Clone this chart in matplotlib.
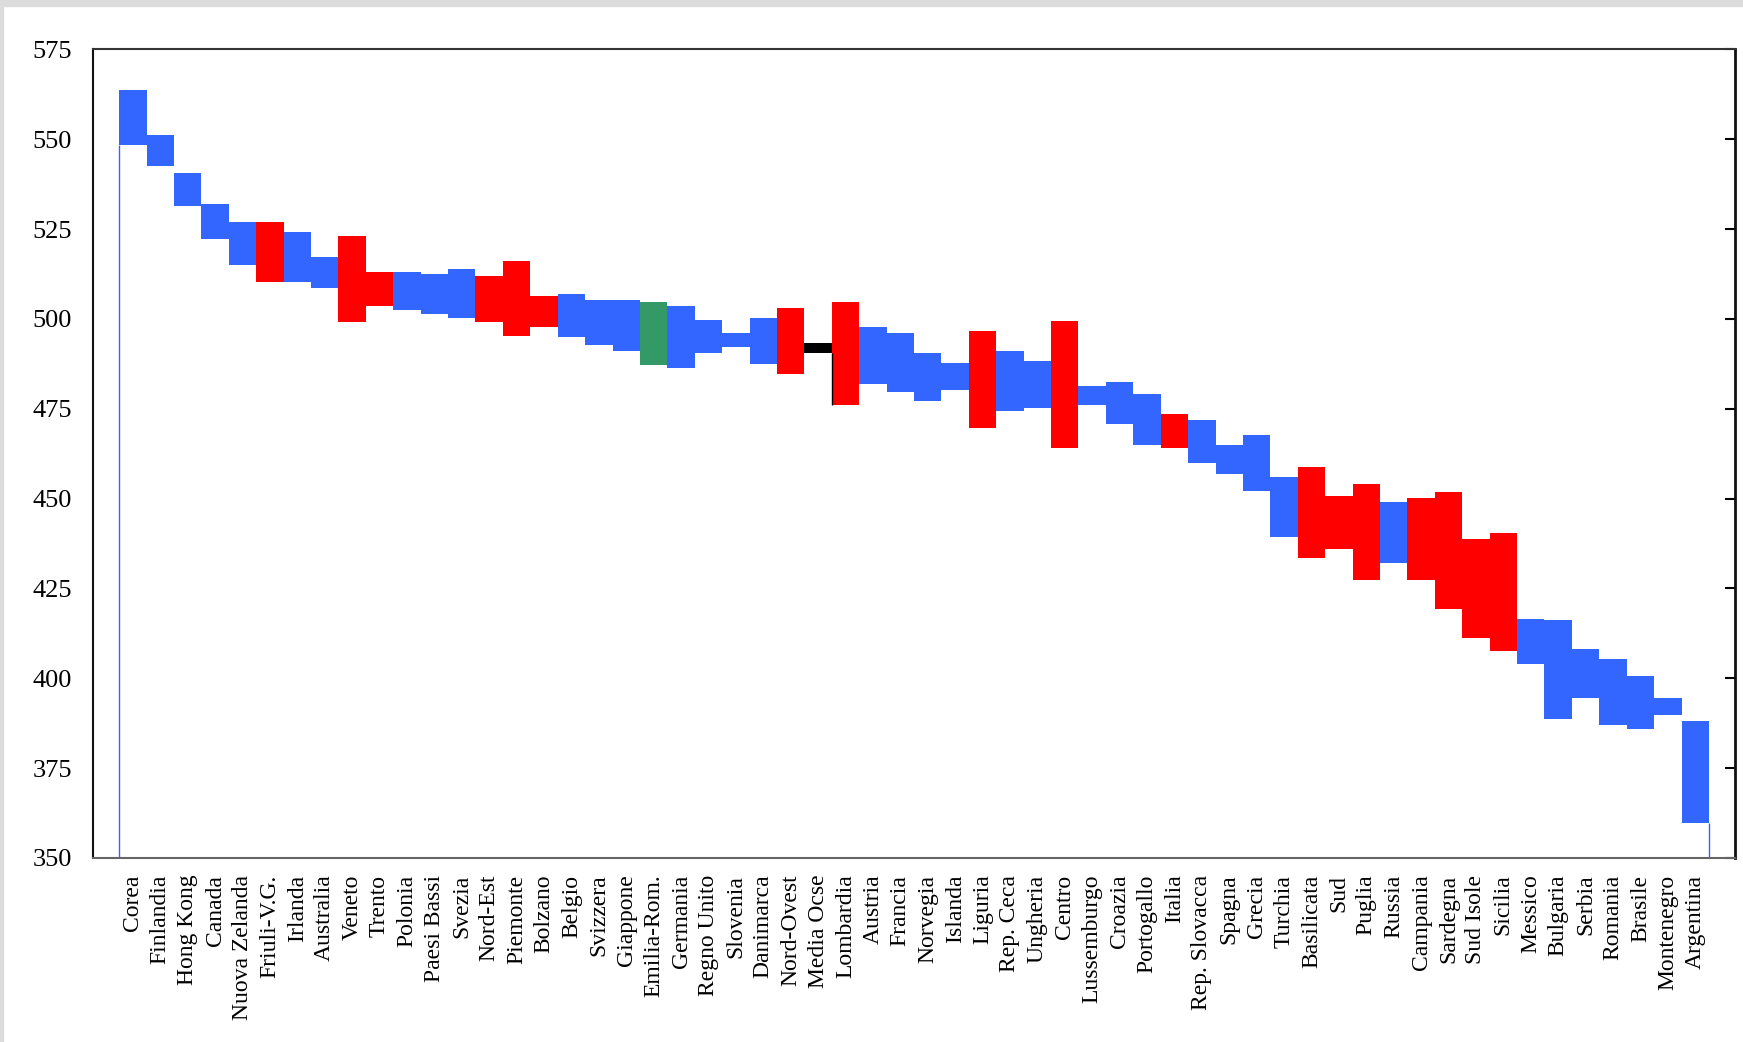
import numpy as np
import matplotlib
matplotlib.use("Agg")
import matplotlib.pyplot as plt
from matplotlib.patches import Rectangle

# paesi e regioni, in ordine
nomi = ["Corea", "Finlandia", "Hong Kong", "Canada", "Nuova Zelanda", "Friuli-V.G.",
        "Irlanda", "Australia", "Veneto", "Trento", "Polonia", "Paesi Bassi", "Svezia",
        "Nord-Est", "Piemonte", "Bolzano", "Belgio", "Svizzera", "Giappone", "Emilia-Rom.",
        "Germania", "Regno Unito", "Slovenia", "Danimarca", "Nord-Ovest", "Media Ocse",
        "Lombardia", "Austria", "Francia", "Norvegia", "Islanda", "Liguria", "Rep. Ceca",
        "Ungheria", "Centro", "Lussemburgo", "Croazia", "Portogallo", "Italia",
        "Rep. Slovacca", "Spagna", "Grecia", "Turchia", "Basilicata", "Sud", "Puglia",
        "Russia", "Campania", "Sardegna", "Sud Isole", "Sicilia", "Messico", "Bulgaria",
        "Serbia", "Romania", "Brasile", "Montenegro", "Argentina"]

# estremi superiori e inferiori
alto = [563.8, 551.3, 540.5, 532.1, 527.0, 527.0, 524.1, 517.2, 523.0, 513.2, 513.2, 512.6,
        513.8, 512.1, 516.2, 506.4, 507.0, 505.3, 505.3, 504.6, 503.6, 499.6, 496.2, 500.2,
        503.1, 493.3, 504.7, 497.9, 496.2, 490.5, 487.7, 496.7, 491.1, 488.2, 499.5, 481.4,
        482.5, 479.1, 473.5, 471.8, 465.0, 467.8, 455.9, 458.7, 450.7, 454.2, 449.1, 450.2,
        451.9, 438.8, 440.5, 416.6, 416.1, 408.2, 405.3, 400.7, 394.5, 388.2]
basso = [548.3, 542.6, 531.4, 522.2, 515.0, 510.2, 510.2, 508.6, 499.3, 503.6, 502.5, 501.3,
         500.2, 499.3, 495.4, 497.7, 494.9, 492.7, 491.0, 487.1, 486.5, 490.4, 492.1, 487.6,
         484.6, 490.5, 476.2, 481.8, 479.6, 477.3, 480.1, 469.8, 474.5, 475.2, 464.2, 476.2,
         470.9, 464.8, 464.2, 460.0, 456.8, 452.0, 439.2, 433.6, 435.9, 427.5, 432.0, 427.5,
         419.4, 411.3, 407.5, 404.1, 388.8, 394.4, 387.1, 386.0, 389.9, 359.8]

# tipo: P = paese, R = regione italiana, E = Emilia-Romagna, O = media Ocse
tipo = ["P", "P", "P", "P", "P", "R", "P", "P", "R", "R", "P", "P", "P", "R", "R", "R", "P",
        "P", "P", "E", "P", "P", "P", "P", "R", "O", "R", "P", "P", "P", "P", "R", "P", "P",
        "R", "P", "P", "P", "R", "P", "P", "P", "P", "R", "R", "R", "P", "R", "R", "R", "R",
        "P", "P", "P", "P", "P", "P", "P"]

colori_tipo = {"P": "#3366ff", "R": "#ff0000", "E": "#339966", "O": "#000000"}

alto = np.array(alto)
basso = np.array(basso)
colori = [colori_tipo[t] for t in tipo]
x = np.arange(len(nomi))

plt.rcParams["font.family"] = ["Liberation Serif", "DejaVu Serif"]

fig = plt.figure(figsize=(17.43, 10.42), dpi=100)
# cornice grigia in alto e a sinistra
fig.patches.append(Rectangle((0, 1 - 6 / 1042), 1, 6 / 1042, transform=fig.transFigure,
                             color="#dcdcdc", zorder=0))
fig.patches.append(Rectangle((0, 0), 3 / 1743, 1, transform=fig.transFigure,
                             color="#dcdcdc", zorder=0))

ax = fig.add_axes([0.0534, 0.1766, 0.942, 0.7759])
ax.bar(x, alto - basso, bottom=basso, width=1.0, align="edge", color=colori, linewidth=0)

# linee sottili ai bordi
ax.vlines(x[0], 350, basso[0], color="#3366ff", linewidth=1)
ax.vlines(x[-1] + 1, 350, basso[-1], color="#3366ff", linewidth=1)
ax.vlines(x[26], basso[26], basso[25], color="#000000", linewidth=1)

ax.set_xlim(-0.95, len(nomi) + 0.95)
ax.set_ylim(350, 575)
ax.set_yticks(np.arange(350, 576, 25))
ax.set_xticks(x + 0.5)
ax.set_xticklabels(nomi, rotation=90, fontsize=17, va="top", ha="center")

ax.tick_params(axis="x", length=0, pad=12)
ax.tick_params(axis="y", which="both", left=False, right=True, direction="in",
               length=7, width=1.5, labelsize=19, pad=15)

ax.spines["left"].set_linewidth(1.5)
ax.spines["left"].set_color("#111111")
ax.spines["top"].set_linewidth(1.5)
ax.spines["top"].set_color("#333333")
ax.spines["right"].set_linewidth(2)
ax.spines["right"].set_color("#111111")
ax.spines["bottom"].set_linewidth(1.5)
ax.spines["bottom"].set_color("#666666")

fig.savefig("out.png", dpi=100)
